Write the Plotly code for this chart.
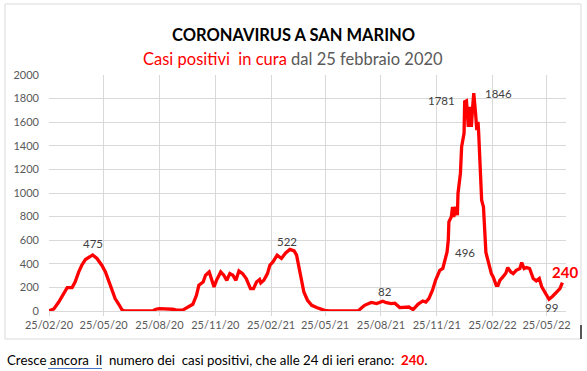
import plotly.graph_objects as go

# ---------------- data ----------------
dates = [
    "2020-02-25", "2020-03-04", "2020-03-12", "2020-03-17", "2020-03-26", "2020-04-03",
    "2020-04-08", "2020-04-14", "2020-04-19", "2020-04-25", "2020-04-30", "2020-05-07",
    "2020-05-14", "2020-05-22", "2020-05-28", "2020-06-02", "2020-06-08", "2020-06-13",
    "2020-06-19", "2020-06-24", "2020-06-28", "2020-08-14", "2020-08-19", "2020-08-25",
    "2020-09-16", "2020-09-22", "2020-10-03", "2020-10-11", "2020-10-19", "2020-10-25",
    "2020-10-29", "2020-11-05", "2020-11-09", "2020-11-15", "2020-11-19", "2020-11-23",
    "2020-11-27", "2020-12-04", "2020-12-09", "2020-12-14", "2020-12-19", "2020-12-24",
    "2020-12-29", "2021-01-03", "2021-01-09", "2021-01-15", "2021-01-22", "2021-01-27",
    "2021-02-01", "2021-02-06", "2021-02-08", "2021-02-13", "2021-02-19", "2021-02-23",
    "2021-02-28", "2021-03-07", "2021-03-14", "2021-03-21", "2021-03-28", "2021-04-04",
    "2021-04-08", "2021-04-12", "2021-04-16", "2021-04-20", "2021-04-26", "2021-05-03",
    "2021-05-11", "2021-05-19", "2021-05-24", "2021-06-01", "2021-07-18", "2021-07-21",
    "2021-07-29", "2021-08-09", "2021-08-18", "2021-08-28", "2021-09-03", "2021-09-11",
    "2021-09-17", "2021-09-25", "2021-10-03", "2021-10-10", "2021-10-17", "2021-10-25",
    "2021-11-02", "2021-11-07", "2021-11-12", "2021-11-18", "2021-11-23", "2021-11-30",
    "2021-12-05", "2021-12-08", "2021-12-12", "2021-12-14", "2021-12-15", "2021-12-19",
    "2021-12-21", "2021-12-23", "2021-12-26", "2021-12-29", "2021-12-30", "2022-01-03",
    "2022-01-05", "2022-01-09", "2022-01-10", "2022-01-13", "2022-01-16", "2022-01-18",
    "2022-01-21", "2022-01-23", "2022-01-25", "2022-01-28", "2022-01-30", "2022-02-01",
    "2022-02-02", "2022-02-07", "2022-02-10", "2022-02-14", "2022-02-18", "2022-02-20",
    "2022-02-23", "2022-02-26", "2022-03-03", "2022-03-06", "2022-03-09", "2022-03-14",
    "2022-03-19", "2022-03-22", "2022-03-27", "2022-03-31", "2022-04-05", "2022-04-11",
    "2022-04-14", "2022-04-18", "2022-04-22", "2022-04-27", "2022-05-03", "2022-05-08",
    "2022-05-13", "2022-05-17", "2022-05-22", "2022-05-29", "2022-06-04", "2022-06-11",
    "2022-06-16", "2022-06-20",
]
positivi = [
    2, 17, 76, 119, 198, 198,
    246, 331, 388, 436, 453, 475,
    445, 388, 331, 260, 176, 105,
    57, 12, 1, 0, 15, 20,
    15, 8, 10, 34, 57, 133,
    218, 246, 303, 331, 275, 204,
    260, 331, 303, 260, 317, 303,
    260, 340, 317, 275, 190, 190,
    246, 267, 238, 260, 317, 388,
    416, 473, 445, 492, 522, 509,
    473, 374, 260, 161, 91, 48,
    29, 14, 5, 0, 0, 12,
    48, 72, 63, 82, 70, 63,
    66, 29, 29, 34, 12, 57,
    85, 76, 105, 176, 260, 345,
    360, 430, 501, 600, 755, 798,
    882, 798, 882, 812, 996, 1166,
    1392, 1505, 1773, 1781, 1561, 1731,
    1561, 1717, 1846, 1675, 1533, 1604,
    1519, 939, 882, 496, 416, 374,
    317, 289, 218, 218, 260, 289,
    322, 368, 331, 317, 345, 360,
    411, 360, 368, 360, 275, 255,
    275, 204, 161, 99, 125, 161,
    190, 240,
]

tick_dates = ["2020-02-25", "2020-05-25", "2020-08-25", "2020-11-25", "2021-02-25",
              "2021-05-25", "2021-08-25", "2021-11-25", "2022-02-25", "2022-05-25"]
tick_labels = ["25/02/20", "25/05/20", "25/08/20", "25/11/20", "25/02/21",
               "25/05/21", "25/08/21", "25/11/21", "25/02/22", "25/05/22"]
y_ticks = list(range(0, 2001, 200))

# data labels: (date, value shown)
label_dates = ["2020-05-07", "2021-03-28", "2021-08-28", "2022-01-13", "2022-01-25",
               "2022-02-14", "2022-05-29", "2022-06-20"]
label_values = [475, 522, 82, 1781, 1846, 496, 99, 240]

title = "CORONAVIRUS A SAN MARINO"
subtitle_red = "Casi positivi\u00a0 in cura"
subtitle_gray = "dal 25 febbraio 2020"
last_value = 240

# ---------------- layout helpers (pixel -> paper) ----------------
W, H = 587, 371
L, R, T, B = 49, 566, 75, 311


def px_x(px):
    return (px - L) / (R - L)


def px_y(py):
    return (B - py) / (B - T)


fig = go.Figure()
fig.add_trace(go.Scatter(
    x=dates, y=positivi, mode="lines",
    line=dict(color="#FF0000", width=3.3),
    hoverinfo="x+y", showlegend=False,
))

label_font = dict(family="Lato, sans-serif", size=11.5, color="#404040")
shifts = [(0, 11), (-3, 8), (2, 10), (-25, 0), (25, 0), (-21, 0), (2, -8), (3, 11)]
annotations = []
for i, (d, v, (sx, sy)) in enumerate(zip(label_dates, label_values, shifts)):
    if i == len(label_dates) - 1:
        txt = f"<b>{v}</b>"
        fnt = dict(family="Lato, sans-serif", size=15, color="#FF0000")
    else:
        txt = str(v)
        fnt = label_font
    annotations.append(dict(x=d, y=v, xref="x", yref="y", text=txt, showarrow=False,
                            xshift=sx, yshift=sy, font=fnt))

# titles
annotations.append(dict(x=px_x(293), y=px_y(23), xref="paper", yref="paper",
                        text=f"<b>{title}</b>", showarrow=False,
                        font=dict(family="Lato, sans-serif", size=16.5, color="#000000")))
annotations.append(dict(x=px_x(293), y=px_y(47), xref="paper", yref="paper",
                        text=f"<span style='color:#FF0000'>{subtitle_red}</span> {subtitle_gray}",
                        showarrow=False,
                        font=dict(family="Lato, sans-serif", size=16.5, color="#595959")))
# footer
annotations.append(dict(x=px_x(5), y=px_y(360), xref="paper", yref="paper",
                        xanchor="left", yanchor="middle",
                        text=("Cresce ancora\u00a0 il\u00a0 numero dei\u00a0 casi positivi, che alle 24 di ieri erano:\u00a0 "
                              f"<b><span style='color:#FF0000'>{last_value}</span></b>."),
                        showarrow=False,
                        font=dict(family="Lato, sans-serif", size=13.3, color="#000000")))

shapes = [
    # chart border
    dict(type="rect", xref="paper", yref="paper", x0=px_x(5), x1=px_x(581),
         y0=px_y(339), y1=px_y(4), line=dict(color="#D9D9D9", width=1), layer="below"),
    # dark edge artifact
    dict(type="line", xref="paper", yref="paper", x0=px_x(581), x1=px_x(581),
         y0=px_y(339), y1=px_y(325), line=dict(color="#262626", width=1.5)),
    # underline under "ancora  il"
    dict(type="line", xref="paper", yref="paper", x0=px_x(48), x1=px_x(102),
         y0=px_y(368.5), y1=px_y(368.5), line=dict(color="#4472C4", width=1)),
]

fig.update_layout(
    width=W, height=H,
    margin=dict(l=L, r=W - R, t=T, b=H - B, pad=0),
    paper_bgcolor="white", plot_bgcolor="white",
    font=dict(family="Lato, sans-serif", size=11, color="#595959"),
    annotations=annotations, shapes=shapes,
    xaxis=dict(
        type="date", range=["2020-02-25", "2022-06-26"],
        tickvals=tick_dates, ticktext=tick_labels,
        showgrid=True, gridcolor="#D9D9D9", gridwidth=1,
        showline=True, linecolor="#D9D9D9", linewidth=1,
        ticks="outside", ticklen=4, tickcolor="#D9D9D9",
        tickfont=dict(family="Lato, sans-serif", size=11, color="#595959"),
        zeroline=False, fixedrange=True,
    ),
    yaxis=dict(
        range=[0, 2000], tickvals=y_ticks,
        showgrid=True, gridcolor="#D9D9D9", gridwidth=1,
        zeroline=False, showline=False, ticks="",
        ticklabelstandoff=9,
        tickfont=dict(family="Lato, sans-serif", size=11, color="#595959"),
        fixedrange=True,
    ),
)

fig.write_html(
    "out.html",
    config={"displayModeBar": False},
    post_script="document.body.style.margin='0';document.body.style.overflow='hidden';",
)
